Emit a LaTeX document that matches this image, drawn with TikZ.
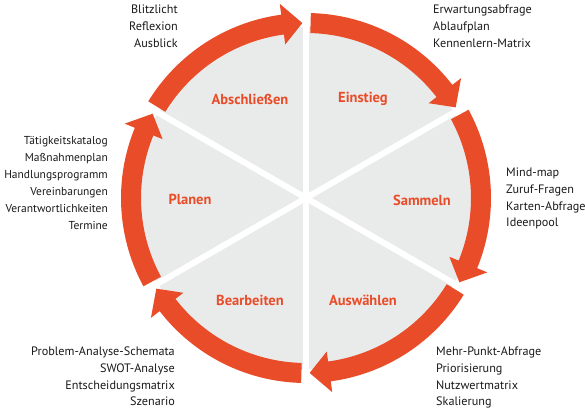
\documentclass[tikz,border=0pt]{standalone}
\usepackage{fontspec}
\setmainfont{PT Sans}
\definecolor{arr}{RGB}{233,76,40}
\definecolor{disk}{RGB}{233,234,234}
\definecolor{txt}{RGB}{25,25,25}
\newcommand\segarrow[2]{%
  \fill[arr] (#1:185) arc[start angle=#1, end angle={#2+6.5}, radius=185]
    -- ({#2+6.5}:196) -- (#2:175) -- ({#2+6.5}:155) -- ({#2+6.5}:165)
    arc[start angle={#2+6.5}, end angle=#1, radius=165] -- cycle;}
\begin{document}
\begin{tikzpicture}[x=1pt,y=1pt,
  lst/.style={font=\fontsize{12.2}{16.7}\selectfont, text=txt, inner sep=0pt},
  lstnarrow/.style={lst, font=\fontsize{11.5}{17}\selectfont},
  lbl/.style={font=\fontsize{14.5}{16}\selectfont\bfseries, text=arr, inner sep=0pt},
  sep/.style={white, line width=6pt}]
\useasboundingbox (-306,-212) rectangle (279,198);
\fill[disk] (0,0) circle (171);
\foreach \a in {90,30,150} \draw[sep] (\a:192) -- (\a+180:192);
\segarrow{88.5}{31.2}
\segarrow{28.5}{-28.8}
\segarrow{-31.5}{-88.8}
\segarrow{-91.5}{-148.8}
\segarrow{-151.5}{-208.8}
\segarrow{148.5}{91.2}
\node[lbl] (abs) at (-56,99) {Abschließen};
\node[lbl] (ein) at (57,99) {Einstieg};
\node[lbl] (sam) at (116,-2) {Sammeln};
\node[lbl] (pla) at (-116,-1) {Planen};
\node[lbl] (bea) at (-56,-102) {Bearbeiten};
\node[lbl] (aus) at (57,-102) {Auswählen};
\node[lst, anchor=north east, align=right] (labs) at (-128,193) {Blitzlicht\\Reflexion\\Ausblick};
\node[lst, anchor=north west, align=left] (lein) at (127,193) {Erwartungsabfrage\\Ablaufplan\\Kennenlern-Matrix};
\node[lstnarrow, anchor=north east, align=right] (lpla) at (-198,62) {Tätigkeitskatalog\\Maßnahmenplan\\Handlungsprogramm\\Vereinbarungen\\Verantwortlichkeiten\\Termine};
\node[lst, anchor=north west, align=left] (lsam) at (200,30) {Mind-map\\Zuruf-Fragen\\Karten-Abfrage\\Ideenpool};
\node[lst, anchor=north east, align=right] (lbea) at (-131,-149) {Problem-Analyse-Schemata\\SWOT-Analyse\\Entscheidungsmatrix\\Szenario};
\node[lst, anchor=north west, align=left] (laus) at (130,-149) {Mehr-Punkt-Abfrage\\Priorisierung\\Nutzwertmatrix\\Skalierung};
\end{tikzpicture}
\end{document}
